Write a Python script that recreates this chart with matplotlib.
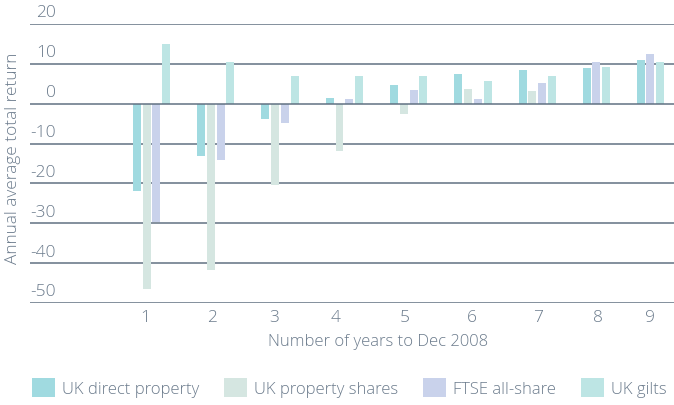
import matplotlib
matplotlib.use("Agg")
import matplotlib.pyplot as plt
from matplotlib.patches import Patch

# data
years = ["1", "2", "3", "4", "5", "6", "7", "8", "9"]
uk_direct_property = [-22.0, -13.2, -3.9, 1.5, 4.75, 7.5, 8.5, 9.0, 11.0]
uk_property_shares = [-46.4, -41.7, -20.4, -11.75, -2.5, 3.75, 3.25, None, None]
ftse_all_share = [-29.6, -14.2, -4.9, 1.25, 3.5, 1.25, 5.25, 10.5, 12.5]
uk_gilts = [15.0, 10.5, 7.0, 7.0, 7.0, 5.75, 7.0, 9.25, 10.5]

series_names = ["UK direct property", "UK property shares", "FTSE all-share", "UK gilts"]
y_ticks = [20, 10, 0, -10, -20, -30, -40, -50]

# layout / style
colors = ["#A0DAE0", "#D5E6E1", "#C9D2EB", "#BDE5E4"]
text_color = "#6B7B8C"
grid_color = "#5E6F80"
group_pos = [1, 2, 3, 4, 5, 6, 7, 7.92, 8.76]
tick_pos = [0.90, 1.94, 2.905, 3.87, 4.94, 5.98, 7.01, 7.945, 8.75]
bar_w = 0.124
bar_step = 0.152

plt.rcParams["font.family"] = ["Open Sans", "DejaVu Sans"]
plt.rcParams["font.weight"] = "light"
plt.rcParams["font.size"] = 12

fig = plt.figure(figsize=(6.74, 4.06), dpi=100)
W, H = 674, 406
ax = fig.add_axes([30 / W, 1 - 304 / H, 644 / W, 279 / H])
ax.set_ylim(-50, 20)
ax.set_xlim(-0.889, 9.126)

all_series = [uk_direct_property, uk_property_shares, ftse_all_share, uk_gilts]

for g, xc in enumerate(group_pos):
    present = [i for i, s in enumerate(all_series) if s[g] is not None]
    n = len(present)
    for k, i in enumerate(present):
        x = xc + (k - (n - 1) / 2) * bar_step
        ax.bar(x, all_series[i][g], width=bar_w, color=colors[i], zorder=2)

for v in y_ticks:
    ax.axhline(v, color=grid_color, lw=1.2, zorder=1 if v != 0 else 3, alpha=0.9)
    ax.text(26 / 644, v + 0.9, str(v), transform=ax.get_yaxis_transform(),
            ha="right", va="bottom", color=text_color, fontsize=12.5)

for s in ax.spines.values():
    s.set_visible(False)
ax.set_yticks([])
ax.set_xticks(tick_pos)
ax.set_xticklabels(years, color=text_color, fontsize=12.5)
ax.tick_params(axis="x", length=0, pad=4)

fig.text(378 / W, 1 - 342 / H, "Number of years to Dec 2008", color=text_color,
         ha="center", va="center")
fig.text(13 / W, 1 - 158 / H, "Annual average total return", rotation=90,
         ha="center", va="center", color=text_color, fontsize=12.4)

handles = [Patch(facecolor=c, edgecolor="none") for c in colors]
fig.legend(handles, series_names, loc="lower left", bbox_to_anchor=(32 / W, 8 / H),
           ncol=4, frameon=False, handlelength=1.38, handleheight=1.38,
           handletextpad=0.42, columnspacing=1.5, borderpad=0, borderaxespad=0,
           labelcolor=text_color, fontsize=12)

fig.savefig("out.png", dpi=100)
